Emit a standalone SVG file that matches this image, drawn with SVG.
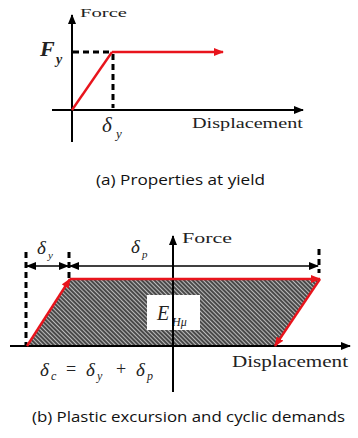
<svg xmlns="http://www.w3.org/2000/svg" width="358" height="438" viewBox="0 0 358 438">
<style>
.ax{stroke:#000;stroke-width:2;fill:none}
.dash{stroke:#000;stroke-width:3;stroke-dasharray:6 4;fill:none}
.red{stroke:#e8141c;stroke-width:2.4;fill:none}
.dim{stroke:#000;stroke-width:1.6;fill:none}
.lbl{font-family:"Liberation Serif","Times New Roman",serif;fill:#222}
.mi{font-family:"Liberation Serif","Times New Roman",serif;font-style:italic;fill:#222}
.cap{font-family:"Open Sans","Liberation Sans",sans-serif;fill:#111;font-size:15px}
</style>
<defs>
<marker id="ak" markerWidth="10" markerHeight="8" refX="9" refY="4" orient="auto" markerUnits="userSpaceOnUse"><path d="M0,0 L10,4 L0,8 Z" fill="#000"/></marker>
<marker id="akr" markerWidth="10" markerHeight="8" refX="9" refY="4" orient="auto-start-reverse" markerUnits="userSpaceOnUse"><path d="M0,0 L10,4 L0,8 Z" fill="#000"/></marker>
<marker id="ar" markerWidth="10" markerHeight="8" refX="9" refY="4" orient="auto" markerUnits="userSpaceOnUse"><path d="M0,0 L10,4 L0,8 Z" fill="#e8141c"/></marker>
<pattern id="hatch" width="3" height="3" patternUnits="userSpaceOnUse" patternTransform="rotate(-45)"><rect width="3" height="3" fill="#bbb"/><line x1="1" y1="0" x2="1" y2="3" stroke="#222" stroke-width="1.5"/></pattern>
</defs>

<g id="panel-a">
<g id="connectors-a">
<line class="ax" x1="72" y1="142" x2="72" y2="15" marker-end="url(#ak)"/>
<line class="ax" x1="52" y1="110" x2="303" y2="110" marker-end="url(#ak)"/>
<line class="dash" x1="73" y1="52" x2="112" y2="52"/>
<line class="dash" x1="113" y1="54" x2="113" y2="108"/>
<polyline class="red" points="72,110 112,52"/>
<line class="red" x1="112" y1="52" x2="223" y2="52" marker-end="url(#ar)"/>
</g>
<text class="lbl" x="80" y="17" font-size="13" textLength="47" lengthAdjust="spacingAndGlyphs">Force</text>
<text class="mi" x="40" y="56" font-size="22" font-weight="bold">F</text>
<text class="mi" x="56" y="64" font-size="14" font-weight="bold">y</text>
<text class="mi" x="102" y="132" font-size="21">δ</text>
<text class="mi" x="116" y="138" font-size="13">y</text>
<text class="lbl" x="192" y="128" font-size="15" textLength="111" lengthAdjust="spacingAndGlyphs">Displacement</text>
<text id="caption-a" class="cap" x="96" y="185" textLength="169" lengthAdjust="spacingAndGlyphs">(a) Properties at yield</text>
</g>

<g id="panel-b">
<polygon id="area" points="27,346 70,279 320,279 275,346" fill="url(#hatch)"/>
<g id="ehu">
<rect x="147" y="295" width="53" height="35" fill="#fff"/>
<text class="mi" x="157" y="320" font-size="20">E</text>
<text class="mi" x="172" y="326" font-size="12">Hμ</text>
</g>
<g id="connectors-b">
<line class="ax" x1="173" y1="392" x2="173" y2="236" marker-end="url(#ak)"/>
<line class="ax" x1="10" y1="346" x2="350" y2="346" marker-end="url(#ak)"/>
<line class="dash" x1="26" y1="252" x2="26" y2="346"/>
<line class="dash" x1="69" y1="252" x2="69" y2="278"/>
<line class="dash" x1="319" y1="249" x2="319" y2="273"/>
<line class="dim" x1="27" y1="266" x2="68" y2="266" marker-start="url(#akr)" marker-end="url(#ak)"/>
<line class="dim" x1="70" y1="266" x2="318" y2="266" marker-start="url(#akr)" marker-end="url(#ak)"/>
<line class="red" x1="27" y1="346" x2="70" y2="279" marker-end="url(#ar)"/>
<line class="red" x1="70" y1="279" x2="320" y2="279" marker-end="url(#ar)"/>
<line class="red" x1="320" y1="279" x2="275" y2="346" marker-end="url(#ar)"/>
</g>
<text class="mi" x="37" y="254" font-size="19">δ</text>
<text class="mi" x="48" y="259" font-size="11">y</text>
<text class="mi" x="131" y="253" font-size="19">δ</text>
<text class="mi" x="142" y="258" font-size="11">p</text>
<text class="lbl" x="182" y="243" font-size="15" textLength="50" lengthAdjust="spacingAndGlyphs">Force</text>
<text class="lbl" x="232" y="367" font-size="16" textLength="116" lengthAdjust="spacingAndGlyphs">Displacement</text>
<g id="eq">
<text class="mi" x="40" y="376" font-size="19">δ</text>
<text class="mi" x="51" y="380" font-size="12">c</text>
<text class="lbl" x="66" y="375" font-size="18">=</text>
<text class="mi" x="86" y="376" font-size="19">δ</text>
<text class="mi" x="97" y="380" font-size="12">y</text>
<text class="lbl" x="116" y="375" font-size="18">+</text>
<text class="mi" x="136" y="376" font-size="19">δ</text>
<text class="mi" x="147" y="380" font-size="12">p</text>
</g>
<text id="caption-b" class="cap" x="32" y="422" textLength="313" lengthAdjust="spacingAndGlyphs">(b) Plastic excursion and cyclic demands</text>
</g>
</svg>
